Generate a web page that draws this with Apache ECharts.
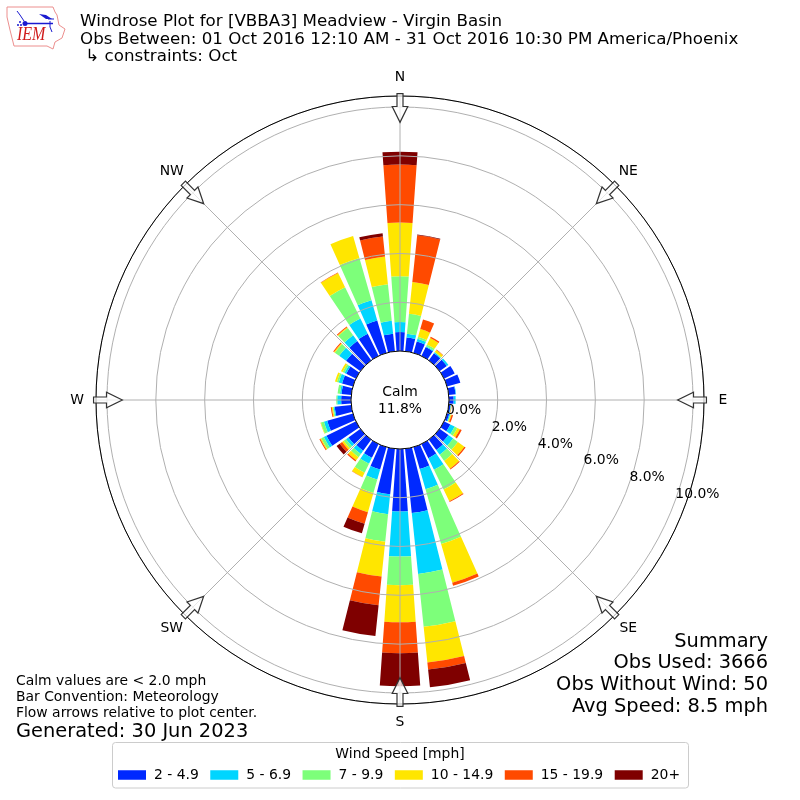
<!DOCTYPE html>
<html><head><meta charset="utf-8">
<style>html,body{margin:0;padding:0;background:#fff}#c{width:800px;height:800px}</style>
<script src="https://cdn.jsdelivr.net/npm/echarts@6/dist/echarts.min.js"></script>
</head><body><div id="c"></div>
<script>
const directions = ['0','10','20','30','40','50','60','70','80','90','100','110','120','130','140','150','160','170','180','190','200','210','220','230','240','250','260','270','280','290','300','310','320','330','340','350'];
const speed2to5 =   [.78,.57,.49,.41,.37,.37,.49,.57,.29,.20,.08,.10,.29,.45,.53,.65,.94,2.65,2.57,1.88,.96,.63,.57,.61,1.35,1.10,.69,.41,.41,.47,.45,.73,.98,1.02,1.39,.73];
const speed5to7 =   [.41,.16,.12,.04,.04,.08,0,0,.02,.08,.02,.04,.20,.24,.24,.53,.86,2.51,1.84,.82,.43,.27,.16,.12,.12,.14,.04,.16,.06,.14,.08,.35,.29,.69,.86,.53];
const speed7to10 =  [1.88,.82,.08,.08,.02,0,0,0,0,0,.01,.02,.12,.24,.31,.90,2.33,2.18,1.18,1.14,.57,.41,.16,.12,.12,.13,.04,.04,.10,.08,.08,.22,.37,1.43,1.80,1.51];
const speed10to15 = [2.20,1.31,.33,.29,.10,0,0,0,0,0,.01,.04,.12,.33,.40,.53,1.65,1.47,1.51,1.43,.82,.20,.16,.08,.04,.02,.04,0,0,.08,.08,.04,.04,.65,.94,1.14];
const speed15to20 = [2.37,1.92,.41,.06,.02,0,0,0,0,0,.01,.06,.08,.06,.04,.04,.13,.29,1.27,1.18,.49,.01,.06,.12,.04,0,.04,0,0,0,0,.04,.04,.02,0,.82];
const speed20plus = [.53,.03,0,0,0,0,0,0,0,0,0,0,0,0,0,0,0,.73,1.35,1.27,.41,0,0,.16,0,0,0,0,0,0,0,0,0,0,0,.14];
const speedNames = ['2 - 4.9','5 - 6.9','7 - 9.9','10 - 14.9','15 - 19.9','20+'];
const speedColors = ['#0029ff','#00d5ff','#7dff7a','#ffe600','#ff4a00','#7f0000'];
const speedValues = [speed2to5,speed5to7,speed7to10,speed10to15,speed15to20,speed20plus];
const compassNames = ['N','NE','E','SE','S','SW','W','NW'];
const compassAngles = [0,45,90,135,180,225,270,315];
const radialTicks = [0,2,4,6,8,10];
const radialLabels = ['0.0%','2.0%','4.0%','6.0%','8.0%','10.0%'];
const titleLines = ['Windrose Plot for [VBBA3] Meadview - Virgin Basin','Obs Between: 01 Oct 2016 12:10 AM - 31 Oct 2016 10:30 PM America/Phoenix',' \u21B3 constraints: Oct'];
const summaryLines = ['Summary','Obs Used: 3666','Obs Without Wind: 50','Avg Speed: 8.5 mph'];
const noteLines = ['Calm values are < 2.0 mph','Bar Convention: Meteorology','Flow arrows relative to plot center.'];

const FONT = '"DejaVu Sans"';
const rMin=-2, rMax=10.45, labelAngle=110, labelR=11.22;
const txt=(x,y,text,size,extra)=>({type:'text',x,y,z:20,silent:true,style:Object.assign({text,fontFamily:FONT,fontSize:size,fill:'#000',textAlign:'left',textVerticalAlign:'middle'},extra||{})});

const barSeries = speedNames.map((n,i)=>({name:n,type:'bar',coordinateSystem:'polar',polarIndex:0,stack:'w',barWidth:'81%',z:2,
  itemStyle:{color:speedColors[i]},data:speedValues[i],silent:true}));

const arrows = {type:'custom',coordinateSystem:'polar',polarIndex:1,z:6,silent:true,clip:false,
  data:compassAngles.map(a=>[10,a]),
  renderItem(p,api){
    const a=api.value(1);
    const tip=api.coord([9.37,a]),base=api.coord([10.02,a]),end=api.coord([10.55,a]);
    const ux=(end[0]-tip[0]),uy=(end[1]-tip[1]);const L=Math.hypot(ux,uy);const nx=-uy/L,ny=ux/L;
    const H=7.8,S=3;
    const pts=[tip,[base[0]+nx*H,base[1]+ny*H],[base[0]+nx*S,base[1]+ny*S],[end[0]+nx*S,end[1]+ny*S],[end[0]-nx*S,end[1]-ny*S],[base[0]-nx*S,base[1]-ny*S],[base[0]-nx*H,base[1]-ny*H]];
    return {type:'polygon',shape:{points:pts},style:{fill:'rgba(255,255,255,0.72)',stroke:'#333',lineWidth:1.2}};
  }};

const compassText = {type:'scatter',coordinateSystem:'polar',polarIndex:1,symbolSize:0,clip:false,z:7,silent:true,itemStyle:{opacity:1},
  data:compassAngles.map((a,i)=>({value:[labelR,a],name:compassNames[i]})),
  label:{show:true,position:'inside',formatter:d=>d.name,fontFamily:FONT,fontSize:13.9,color:'#000',align:'center',verticalAlign:'middle'}};
const radialText = {type:'scatter',coordinateSystem:'polar',polarIndex:1,symbolSize:0,clip:false,z:7,silent:true,itemStyle:{opacity:1},
  data:radialTicks.map((t,i)=>({value:[t,labelAngle],name:radialLabels[i]})),
  label:{show:true,position:[0,1],formatter:d=>d.name,fontFamily:FONT,fontSize:13.9,color:'#000',align:'left',verticalAlign:'bottom'}};

const B='#1a1ad0';
const graphics = [
  {type:'circle',shape:{cx:400,cy:400,r:49},z:10,silent:true,style:{fill:'#fff',stroke:'#000',lineWidth:1}},
  txt(400,392,'Calm',13.9,{textAlign:'center'}),
  txt(400,409,'11.8%',13.9,{textAlign:'center'}),
  txt(80,22,titleLines[0],16.7),txt(80,39.5,titleLines[1],16.7),txt(80,57,titleLines[2],16.7),
  ...summaryLines.map((s,i)=>txt(768,641.5+i*21.7,s,19.4,{textAlign:'right'})),
  ...noteLines.map((s,i)=>txt(16,681.5+i*16,s,13.9)),
  txt(16,731.5,'Generated: 30 Jun 2023',19.4),
  {type:'rect',shape:{x:112.5,y:742.5,width:576,height:45.5,r:3},z:1,silent:true,style:{fill:'#fff',stroke:'#ccc',lineWidth:1}},
  txt(400,754,'Wind Speed [mph]',13.9,{textAlign:'center'}),
  // IEM logo
  {type:'polygon',z:20,silent:true,shape:{points:[[7,7],[53,7],[55,12],[57,15],[59,25],[65,29],[62,38],[55,42],[53,49],[47,46],[14,46],[10,30],[7,17]]},style:{fill:'#fff',stroke:'#ec8f8e',lineWidth:1}},
  {type:'polyline',z:21,silent:true,shape:{points:[[25,23.5],[53,23.5]]},style:{stroke:B,lineWidth:1.5,fill:null}},
  {type:'polyline',z:21,silent:true,shape:{points:[[17,11],[20,15],[24,21]]},style:{stroke:B,lineWidth:1,fill:null}},
  {type:'polygon',z:21,silent:true,shape:{points:[[39,14],[46,15],[52,19],[46,19]]},style:{fill:B}},
  {type:'polyline',z:21,silent:true,shape:{points:[[48,19],[54,19]]},style:{stroke:B,lineWidth:1,fill:null}},
  {type:'polyline',z:21,silent:true,shape:{points:[[50,21],[50,27],[52,32]]},style:{stroke:B,lineWidth:1,fill:null}},
  {type:'circle',z:21,silent:true,shape:{cx:25,cy:23.5,r:2.5},style:{fill:B}},
  {type:'circle',z:21,silent:true,shape:{cx:20,cy:22,r:1},style:{fill:B}},
  {type:'circle',z:21,silent:true,shape:{cx:18,cy:25,r:1},style:{fill:B}},
  {type:'circle',z:21,silent:true,shape:{cx:21,cy:25,r:1},style:{fill:B}},
  {type:'text',x:17,y:45,z:21,silent:true,scaleY:1.2,style:{text:'IEM',fontFamily:'"Liberation Serif"',fontStyle:'italic',fontSize:16,fill:'#d01c1c',textAlign:'left',textVerticalAlign:'bottom'}}
];

const option = {
  animation:false,backgroundColor:'#fff',
  polar:[{center:[400,400],radius:[0,304]},{center:[400,400],radius:[0,304]}],
  angleAxis:[
    {polarIndex:0,type:'category',data:directions,startAngle:95,clockwise:true,axisLine:{show:false},axisTick:{show:false},axisLabel:{show:false},splitLine:{show:false}},
    {polarIndex:1,type:'value',min:0,max:360,interval:45,startAngle:90,clockwise:true,z:5,axisLine:{show:true,lineStyle:{color:'#000',width:1}},axisTick:{show:false},axisLabel:{show:false},splitLine:{show:true,lineStyle:{color:'#b0b0b0',width:1}}}
  ],
  radiusAxis:[
    {polarIndex:0,type:'value',min:rMin,max:rMax,axisLine:{show:false},axisTick:{show:false},axisLabel:{show:false},splitLine:{show:false}},
    {polarIndex:1,type:'value',min:rMin,max:rMax,interval:2,z:4,axisLine:{show:false},axisTick:{show:false},axisLabel:{show:false},splitLine:{show:true,showMaxLine:false,lineStyle:{color:'#b0b0b0',width:1}}}
  ],
  legend:{data:speedNames,left:118,top:768,padding:0,itemWidth:28,itemHeight:9.5,itemGap:11.5,icon:'rect',z:20,
    selectedMode:false,textStyle:{fontFamily:FONT,fontSize:13.9,color:'#000',padding:[0,0,0,3]}},
  series:[...barSeries,arrows,compassText,radialText],
  graphic:graphics
};
const chart=echarts.init(document.getElementById('c'),null,{renderer:'canvas'});
chart.setOption(option);
</script></body></html>
